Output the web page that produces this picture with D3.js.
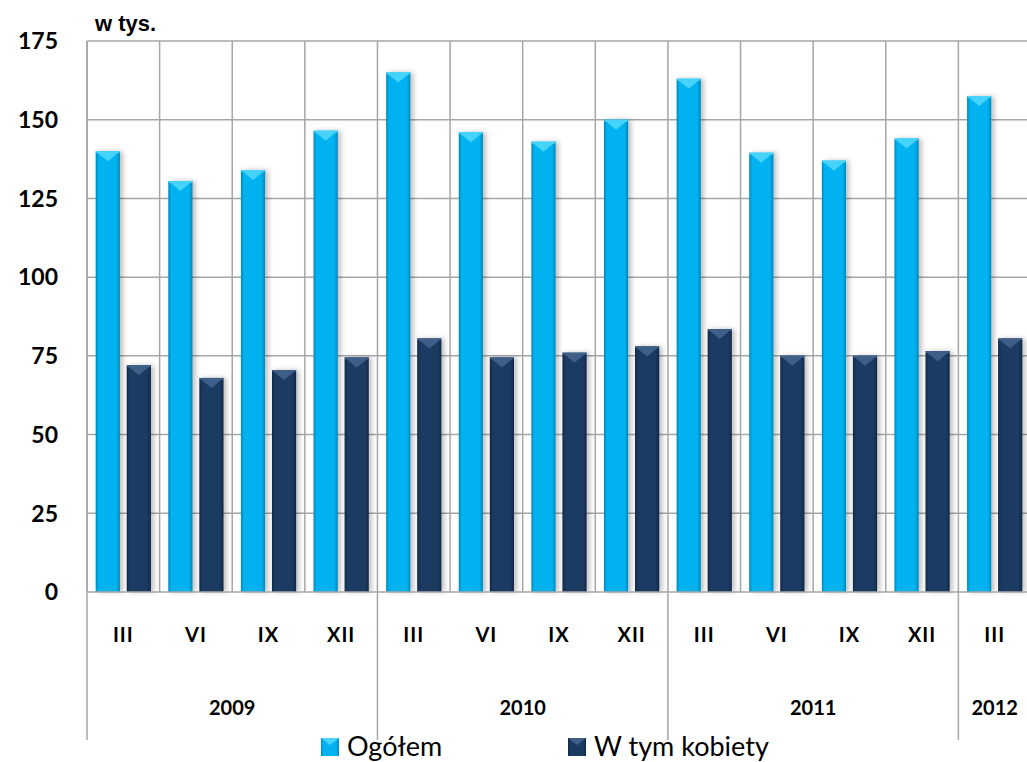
<!DOCTYPE html>
<html>
<head>
<meta charset="utf-8">
<script src="https://cdn.jsdelivr.net/npm/d3@7"></script>
<style>
  body { margin: 0; background: #fff; }
  svg { display: block; }
</style>
</head>
<body>
<svg id="chart" width="1027" height="762"></svg>
<script>
// Data
const months = ['III', 'VI', 'IX', 'XII', 'III', 'VI', 'IX', 'XII', 'III', 'VI', 'IX', 'XII', 'III'];
const years = ['2009', '2009', '2009', '2009', '2010', '2010', '2010', '2010', '2011', '2011', '2011', '2011', '2012'];
const ogolem = [140, 130.5, 134, 146.5, 165, 146, 143, 150, 163, 139.5, 137, 144, 157.5];
const kobiety = [72, 68, 70.5, 74.5, 80.5, 74.5, 76, 78, 83.5, 75, 75, 76.5, 80.5];
const yTicks = [0, 25, 50, 75, 100, 125, 150, 175];
const seriesNames = ['Ogółem', 'W tym kobiety'];

const svg = d3.select('#chart');
const margin = { top: 41, left: 87, bottom: 592, right: 1031 };
const labelFont = 'Lato, "DejaVu Sans", sans-serif';

const x = d3.scaleBand()
    .domain(d3.range(months.length))
    .range([margin.left, margin.right])
    .paddingInner(0)
    .paddingOuter(0);

const y = d3.scaleLinear()
    .domain([0, 175])
    .range([margin.bottom, margin.top]);

const inner = d3.scaleBand()
    .domain([0, 1])
    .range([0, x.bandwidth()])
    .paddingInner(0.22)
    .paddingOuter(0.28);

// gradients for the beveled look
const defs = svg.append('defs');
function barGradient(id, edge, mid) {
    const g = defs.append('linearGradient').attr('id', id)
        .attr('x1', '0%').attr('x2', '100%').attr('y1', '0%').attr('y2', '0%');
    [[0, edge], [0.12, mid], [0.85, mid], [1, edge]].forEach(s => {
        g.append('stop').attr('offset', s[0]).attr('stop-color', s[1]);
    });
}
barGradient('grad-light', '#0786b8', '#03b3f0');
barGradient('grad-dark', '#0f2746', '#1b3a62');

const shadow = defs.append('filter').attr('id', 'shadow')
    .attr('x', '-30%').attr('y', '-10%').attr('width', '160%').attr('height', '120%');
shadow.append('feDropShadow')
    .attr('dx', 3).attr('dy', 0).attr('stdDeviation', 2.5)
    .attr('flood-color', '#000').attr('flood-opacity', 0.25);

const colors = ['url(#grad-light)', 'url(#grad-dark)'];
const topColors = ['#46d3fb', '#3f5f88'];
const solidColors = ['#12b1ea', '#1c3a62'];

// horizontal gridlines
svg.append('g')
    .selectAll('line')
    .data(yTicks.filter(d => d > 0))
    .join('line')
    .attr('x1', margin.left).attr('x2', margin.right)
    .attr('y1', d => y(d)).attr('y2', d => y(d))
    .attr('stroke', '#a6a6a6').attr('stroke-width', 1.5);

// vertical gridlines between categories
svg.append('g')
    .selectAll('line')
    .data(d3.range(months.length))
    .join('line')
    .attr('x1', d => x(d)).attr('x2', d => x(d))
    .attr('y1', margin.top).attr('y2', margin.bottom)
    .attr('stroke', '#a6a6a6').attr('stroke-width', 1.5);

// bars
const seriesData = [ogolem, kobiety];
seriesData.forEach((vals, s) => {
    const g = svg.append('g').attr('class', 'series-' + s);
    const bw = inner.bandwidth();
    const bar = g.selectAll('g')
        .data(vals)
        .join('g')
        .attr('transform', (d, i) => `translate(${x(i) + inner(s)},0)`);

    bar.append('rect')
        .attr('x', 0)
        .attr('y', d => y(d))
        .attr('width', bw)
        .attr('height', d => y(0) - y(d))
        .attr('fill', colors[s])
        .attr('filter', 'url(#shadow)');

    // top bevel
    bar.append('path')
        .attr('d', d => `M0,${y(d)} L${bw},${y(d)} L${bw / 2},${y(d) + 10} Z`)
        .attr('fill', topColors[s]);
    bar.append('path')
        .attr('d', d => `M0,${y(d)} L${bw},${y(d)} L${bw - 1},${y(d) + 2} L1,${y(d) + 2} Z`)
        .attr('fill', topColors[s]);
    // bottom bevel
    bar.append('path')
        .attr('d', `M1,${y(0)} L${bw - 1},${y(0)} L${bw / 2},${y(0) - 7} Z`)
        .attr('fill', solidColors[s]).attr('opacity', 0.6);
});

// baseline
svg.append('line')
    .attr('x1', margin.left).attr('x2', margin.right)
    .attr('y1', y(0)).attr('y2', y(0))
    .attr('stroke', '#a6a6a6').attr('stroke-width', 1.5);

// left axis line down through the category area
svg.append('line')
    .attr('x1', margin.left).attr('x2', margin.left)
    .attr('y1', margin.top).attr('y2', 740)
    .attr('stroke', '#a6a6a6').attr('stroke-width', 1.5);

// year separators
const yearStarts = d3.range(months.length).filter(i => i > 0 && years[i] !== years[i - 1]);
svg.append('g')
    .selectAll('line')
    .data(yearStarts)
    .join('line')
    .attr('x1', d => x(d)).attr('x2', d => x(d))
    .attr('y1', margin.bottom).attr('y2', 740)
    .attr('stroke', '#a6a6a6').attr('stroke-width', 1.5);

// y tick labels
svg.append('g')
    .selectAll('text')
    .data(yTicks)
    .join('text')
    .attr('x', 58)
    .attr('y', d => y(d))
    .attr('dy', '0.36em')
    .attr('text-anchor', 'end')
    .style('font-family', labelFont)
    .style('font-size', '23px')
    .style('font-weight', 'bold')
    .style('fill', '#000')
    .text(d => d);

// unit label
svg.append('text')
    .attr('x', 95).attr('y', 31)
    .style('font-family', '"Liberation Sans", Arial, sans-serif')
    .style('font-size', '22px')
    .style('font-weight', 'bold')
    .text('w tys.');

// month labels
svg.append('g')
    .selectAll('text')
    .data(months)
    .join('text')
    .attr('x', (d, i) => x(i) + x.bandwidth() / 2)
    .attr('y', 642)
    .attr('text-anchor', 'middle')
    .style('font-family', labelFont)
    .style('font-size', '20px')
    .style('font-weight', 'bold')
    .style('letter-spacing', '1px')
    .text(d => d);

// year labels
const yearGroups = d3.groups(d3.range(months.length), i => years[i]);
svg.append('g')
    .selectAll('text')
    .data(yearGroups)
    .join('text')
    .attr('x', d => (x(d[1][0]) + x(d[1][d[1].length - 1]) + x.bandwidth()) / 2)
    .attr('y', 715)
    .attr('text-anchor', 'middle')
    .style('font-family', labelFont)
    .style('font-size', '20px')
    .style('font-weight', 'bold')
    .text(d => d[0]);

// legend
const legendX = [321, 568];
const legend = svg.append('g')
    .selectAll('g')
    .data(seriesNames)
    .join('g')
    .attr('transform', (d, i) => `translate(${legendX[i]},738)`);
legend.append('rect')
    .attr('width', 18).attr('height', 18)
    .attr('fill', (d, i) => colors[i]);
legend.append('path')
    .attr('d', 'M0,0 L18,0 L9,7 Z')
    .attr('fill', (d, i) => topColors[i]);
legend.append('text')
    .attr('x', 26).attr('y', 18)
    .style('font-family', labelFont)
    .style('font-size', '27px')
    .style('fill', '#000')
    .text(d => d);
</script>
</body>
</html>
